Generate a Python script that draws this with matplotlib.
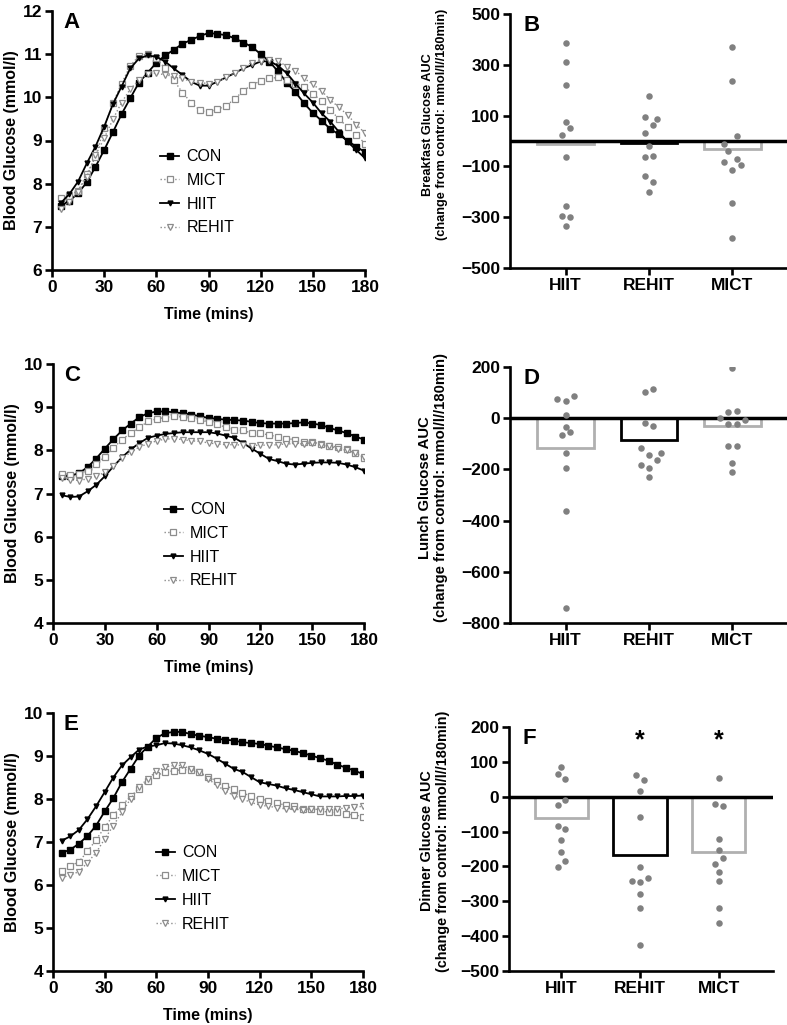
import matplotlib
matplotlib.use("Agg")
import matplotlib.pyplot as plt
import numpy as np

plt.rcParams['font.family'] = ['Liberation Sans', 'DejaVu Sans']

# ---- data ----
time = list(range(5, 181, 5))

# panel A (breakfast)
a_con = [7.49, 7.60, 7.78, 8.03, 8.39, 8.78, 9.19, 9.61, 9.98, 10.34, 10.57, 10.80,
         10.97, 11.10, 11.24, 11.33, 11.42, 11.49, 11.47, 11.44, 11.37, 11.27, 11.17, 11.00,
         10.83, 10.60, 10.34, 10.12, 9.86, 9.64, 9.46, 9.27, 9.14, 8.99, 8.86, 8.73]
a_mict = [7.66, 7.72, 7.84, 8.22, 8.62, 9.30, 9.86, 10.32, 10.73, 10.96, 11.00, 10.90,
          10.67, 10.40, 10.11, 9.88, 9.70, 9.65, 9.72, 9.80, 9.96, 10.15, 10.29, 10.38,
          10.44, 10.46, 10.40, 10.32, 10.25, 10.08, 9.92, 9.71, 9.50, 9.31, 9.13, 8.93]
a_hiit = [7.55, 7.76, 8.05, 8.47, 8.86, 9.32, 9.84, 10.25, 10.67, 10.90, 10.97, 10.94,
          10.83, 10.67, 10.52, 10.36, 10.27, 10.27, 10.36, 10.46, 10.56, 10.67, 10.75, 10.83,
          10.84, 10.73, 10.56, 10.32, 10.09, 9.88, 9.63, 9.44, 9.20, 8.97, 8.78, 8.59]
a_rehit = [7.41, 7.58, 7.81, 8.16, 8.66, 9.05, 9.49, 9.88, 10.19, 10.40, 10.54, 10.56,
           10.52, 10.49, 10.44, 10.36, 10.34, 10.32, 10.36, 10.46, 10.57, 10.67, 10.79, 10.85,
           10.86, 10.85, 10.71, 10.62, 10.44, 10.30, 10.15, 9.94, 9.77, 9.59, 9.37, 9.17]

# panel C (lunch)
c_con = [7.40, 7.41, 7.47, 7.61, 7.81, 8.04, 8.26, 8.46, 8.62, 8.77, 8.86, 8.90,
         8.90, 8.88, 8.86, 8.83, 8.79, 8.75, 8.73, 8.71, 8.70, 8.69, 8.66, 8.63,
         8.62, 8.62, 8.62, 8.63, 8.65, 8.62, 8.59, 8.52, 8.46, 8.40, 8.32, 8.25]
c_mict = [7.46, 7.44, 7.46, 7.53, 7.68, 7.85, 8.06, 8.25, 8.40, 8.53, 8.67, 8.73,
          8.76, 8.79, 8.77, 8.75, 8.70, 8.66, 8.61, 8.53, 8.48, 8.46, 8.40, 8.39,
          8.36, 8.31, 8.27, 8.25, 8.19, 8.19, 8.15, 8.11, 8.07, 8.02, 7.94, 7.82]
c_hiit = [6.96, 6.92, 6.93, 7.05, 7.20, 7.40, 7.63, 7.84, 8.02, 8.17, 8.29, 8.34,
          8.38, 8.40, 8.42, 8.42, 8.42, 8.42, 8.39, 8.34, 8.29, 8.17, 8.04, 7.92,
          7.80, 7.75, 7.69, 7.67, 7.69, 7.71, 7.72, 7.72, 7.71, 7.67, 7.61, 7.53]
c_rehit = [7.36, 7.32, 7.30, 7.34, 7.40, 7.49, 7.63, 7.82, 7.95, 8.08, 8.15, 8.22,
           8.26, 8.27, 8.25, 8.22, 8.21, 8.17, 8.15, 8.13, 8.13, 8.12, 8.11, 8.12,
           8.12, 8.13, 8.15, 8.15, 8.15, 8.17, 8.13, 8.09, 8.04, 8.00, 7.94, 7.84]

# panel E (dinner)
e_con = [6.75, 6.82, 6.96, 7.14, 7.38, 7.71, 8.02, 8.39, 8.70, 9.01, 9.22, 9.42,
         9.53, 9.56, 9.56, 9.51, 9.47, 9.44, 9.40, 9.38, 9.36, 9.32, 9.30, 9.28,
         9.24, 9.20, 9.16, 9.12, 9.07, 9.01, 8.95, 8.89, 8.80, 8.73, 8.66, 8.58]
e_mict = [6.33, 6.44, 6.54, 6.78, 7.05, 7.34, 7.62, 7.85, 8.06, 8.24, 8.41, 8.55,
          8.62, 8.66, 8.68, 8.68, 8.62, 8.52, 8.42, 8.31, 8.23, 8.14, 8.07, 8.00,
          7.96, 7.90, 7.86, 7.83, 7.77, 7.76, 7.73, 7.69, 7.69, 7.65, 7.63, 7.59]
e_hiit = [7.03, 7.13, 7.28, 7.53, 7.83, 8.16, 8.50, 8.78, 8.97, 9.15, 9.22, 9.25,
          9.30, 9.29, 9.25, 9.20, 9.13, 9.05, 8.94, 8.82, 8.70, 8.63, 8.51, 8.39,
          8.35, 8.31, 8.25, 8.21, 8.16, 8.11, 8.06, 8.06, 8.06, 8.07, 8.07, 8.08]
e_rehit = [6.17, 6.23, 6.31, 6.52, 6.75, 7.07, 7.38, 7.69, 8.00, 8.28, 8.47, 8.64,
           8.74, 8.78, 8.78, 8.70, 8.62, 8.47, 8.32, 8.19, 8.08, 8.00, 7.92, 7.86,
           7.83, 7.80, 7.77, 7.76, 7.75, 7.76, 7.76, 7.77, 7.77, 7.79, 7.81, 7.83]

groups = ["HIIT", "REHIT", "MICT"]

# AUC change from control, individual points and group means
b_points = {
    "HIIT": [387, 310, 221, 75, 50, 24, -64, -255, -297, -298, -334],
    "REHIT": [178, 96, 86, 64, 33, -19, -64, -61, -136, -163, -199],
    "MICT": [372, 238, 20, -11, -41, -70, -83, -96, -115, -246, -383],
}
b_means = [-10, -8, -31]
b_jitter = {
    "HIIT": [0, 0, 0, 0, 1, -1, 0, 0, -1, 1, 0],
    "REHIT": [0, -1, 2, 1, -1, 0, -1, 1, -1, 1, 0],
    "MICT": [0, 0, 1, -2, -1, 1, -2, 2, 0, 0, 0],
}

d_points = {
    "HIIT": [76, 67, 88, 14, -33, -67, -55, -136, -196, -362, -741],
    "REHIT": [101, 114, -17, -32, -115, -142, -137, -165, -184, -195, -231],
    "MICT": [197, 26, 28, 2, -6, -21, -21, -109, -109, -174, -211],
}
d_means = [-115, -86, -32]
d_jitter = {
    "HIIT": [-2, 0, 2, 0, 0, -1, 1, 0, 0, 0, 0],
    "REHIT": [-1, 1, -1, 1, -2, 0, 3, 2, -2, 0, 0],
    "MICT": [0, -1, 1, -3, 3, -1, 1, -1, 1, 0, 0],
}

f_points = {
    "HIIT": [85, 65, 52, -9, -24, -83, -93, -125, -160, -185, -202],
    "REHIT": [62, 49, 15, -59, -202, -243, -246, -233, -280, -320, -425],
    "MICT": [54, -21, -26, -122, -153, -175, -194, -217, -241, -320, -362],
}
f_means = [-60, -167, -159]
f_jitter = {
    "HIIT": [0, -1, 1, 1, -1, -1, 1, 0, 0, 1, -1],
    "REHIT": [-1, 1, 0, 0, 0, -2, 0, 2, 0, 0, 0],
    "MICT": [0, -1, 1, 0, 0, 1, -1, 0, 0, 0, 0],
}
f_sig = [False, True, True]

W, H = 787, 1025
fig = plt.figure(figsize=(W / 100, H / 100), dpi=100)


def add_ax(x0, y0, x1, y1):
    # pixel box -> figure coords
    return fig.add_axes([x0 / W, 1 - y1 / H, (x1 - x0) / W, (y1 - y0) / H])


def style_ax(ax):
    for s in ["top", "right"]:
        ax.spines[s].set_visible(False)
    for s in ["left", "bottom"]:
        ax.spines[s].set_linewidth(1.9)
    ax.tick_params(width=1.9, length=5, labelsize=12.5, pad=2)
    for lab in ax.get_xticklabels() + ax.get_yticklabels():
        lab.set_fontweight("bold")


def line_panel(ax, con, mict, hiit, rehit, ylim, letter, leg_anchor):
    ax.plot(time, con, color="black", lw=1.3, marker="s", ms=3.8, label="CON")
    ax.plot(time, mict, color="#8c8c8c", lw=1.0, ls=":", marker="s", ms=3.8,
            mfc="white", mec="#8c8c8c", mew=0.9, label="MICT")
    ax.plot(time, hiit, color="black", lw=1.3, marker="v", ms=3.5, label="HIIT")
    ax.plot(time, rehit, color="#8c8c8c", lw=1.0, ls=":", marker="v", ms=4.0,
            mfc="white", mec="#8c8c8c", mew=0.9, label="REHIT")
    ax.set_xlim(0, 180)
    ax.set_ylim(*ylim)
    ax.set_xticks(range(0, 181, 30))
    ax.set_yticks(range(ylim[0], ylim[1] + 1))
    ax.set_ylabel("Blood Glucose (mmol/l)", fontsize=11.5, fontweight="bold", labelpad=3)
    ax.set_xlabel("Time (mins)", fontsize=11.5, fontweight="bold", labelpad=9)
    ax.text(0.035, 0.995, letter, transform=ax.transAxes, fontsize=16,
            fontweight="bold", va="top", ha="left")
    ax.legend(loc="center left", bbox_to_anchor=leg_anchor, frameon=False,
              fontsize=11.5, handlelength=1.2, handletextpad=0.45, labelspacing=0.55)
    style_ax(ax)


def bar_panel(ax, points, means, jitter, ylim, yticks, ylabel, letter,
              label_size, label_y, sig=None):
    xs = np.arange(1, len(groups) + 1)
    edge = ["#b0b0b0", "black", "#b0b0b0"]
    ax.bar(xs, means, width=0.68, color="white", edgecolor=edge, linewidth=2.0, zorder=2)
    ax.axhline(0, color="black", lw=2.5, zorder=3)
    for i, g in enumerate(groups):
        px = xs[i] + np.array(jitter[g]) * 0.049
        ax.scatter(px, points[g], s=22, color="#808080", zorder=4, linewidths=0)
    if sig is not None:
        for i, s in enumerate(sig):
            if s:
                ax.text(xs[i], ylim[1] - 0.005 * (ylim[1] - ylim[0]), "*",
                        ha="center", va="top", fontsize=18, fontweight="bold")
    ax.set_xlim(0.333, 3.69)
    ax.set_ylim(*ylim)
    ax.set_yticks(yticks)
    ax.set_xticks(xs)
    ax.set_xticklabels(groups)
    ax.set_ylabel(ylabel, fontsize=label_size, fontweight="bold")
    ax.yaxis.set_label_coords(-0.222, label_y)
    ax.text(0.05, 0.995, letter, transform=ax.transAxes, fontsize=16,
            fontweight="bold", va="top", ha="left")
    style_ax(ax)


ax_a = add_ax(52, 11, 365, 270)
line_panel(ax_a, a_con, a_mict, a_hiit, a_rehit, (6, 12), "A", (0.30, 0.30))

ax_c = add_ax(53, 364, 364, 623)
line_panel(ax_c, c_con, c_mict, c_hiit, c_rehit, (4, 10), "C", (0.31, 0.30))

ax_e = add_ax(53, 713, 363, 971)
line_panel(ax_e, e_con, e_mict, e_hiit, e_rehit, (4, 10), "E", (0.285, 0.32))

ax_b = add_ax(510, 14, 790, 268)
bar_panel(ax_b, b_points, b_means, b_jitter, (-500, 500), [-500, -300, -100, 100, 300, 500],
          "Breakfast Glucose AUC\n(change from control: mmol/l//180min)", "B",
          9.2, 0.565)

ax_d = add_ax(510, 367, 790, 623)
bar_panel(ax_d, d_points, d_means, d_jitter, (-800, 200), [-800, -600, -400, -200, 0, 200],
          "Lunch Glucose AUC\n(change from control: mmol/l//180min)", "D",
          10.7, 0.53)

ax_f = add_ax(509, 727, 773, 971)
bar_panel(ax_f, f_points, f_means, f_jitter, (-500, 200), list(range(-500, 201, 100)),
          "Dinner Glucose AUC\n(change from control: mmol/l//180min)", "F",
          10.4, 0.533, sig=f_sig)

fig.savefig("out.png", dpi=100)
plt.close(fig)
